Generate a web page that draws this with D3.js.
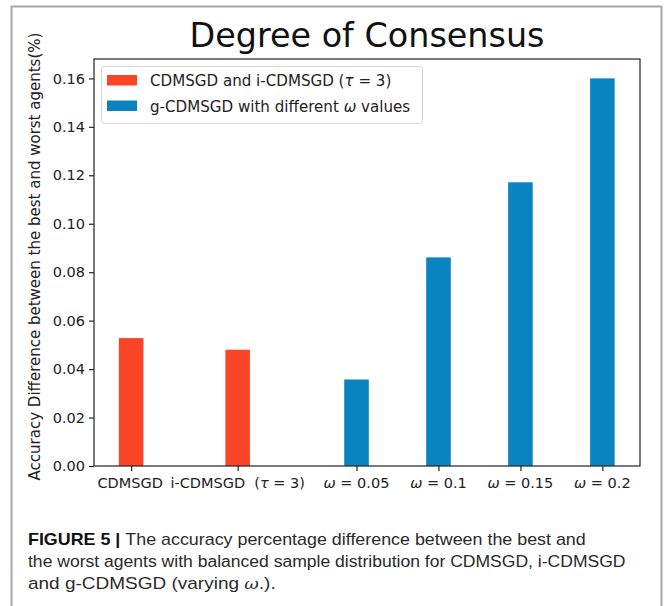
<!DOCTYPE html>
<html><head><meta charset="utf-8">
<script src="https://cdn.jsdelivr.net/npm/d3@7"></script>
<style>body{margin:0;background:#fff}svg{display:block}</style>
</head><body>
<svg id="c" width="664" height="606"></svg>
<script>
// ---- data ----
const categories = ["CDMSGD", "i-CDMSGD", "ω=0.05", "ω=0.1", "ω=0.15", "ω=0.2"];
const xPositions = [0, 1.3, 2.75, 3.75, 4.75, 5.75];
const values = [0.0528, 0.0480, 0.0357, 0.0861, 0.1171, 0.1600];
const groups = ["red", "red", "blue", "blue", "blue", "blue"];
const yTicks = [0, 0.02, 0.04, 0.06, 0.08, 0.10, 0.12, 0.14, 0.16];
const legendLabels = ["CDMSGD and i-CDMSGD (τ = 3)", "g-CDMSGD with different ω values"];
const titleText = "Degree of Consensus";
const yLabelText = "Accuracy Difference between the best and worst agents(%)";
const captionLines = [
  ["FIGURE 5 | ", "The accuracy percentage difference between the best and"],
  ["", "the worst agents with balanced sample distribution for CDMSGD, i-CDMSGD"],
  ["", "and g-CDMSGD (varying ", "ω", ".)."]
];

(function () {
const colors = {red: "#fb4527", blue: "#0a84c1"};
const svg = d3.select("#c");
const FONT = "DejaVu Sans";
const L = 94, R = 640, T = 59, B = 466;
const barW = 0.3;

// outer frame
svg.append("rect").attr("x", 11.5).attr("y", 6.5).attr("width", 650).attr("height", 640)
  .attr("fill", "#fff").attr("stroke", "#a8a8a8").attr("stroke-width", 2);

const x = d3.scaleLinear().domain([-0.453, 6.209]).range([L, R]);
const y = d3.scaleLinear().domain([0, 0.168]).range([B, T]);

// bars
svg.append("g").selectAll("rect").data(values).join("rect")
  .attr("x", (d, i) => x(xPositions[i] - barW / 2))
  .attr("width", (d, i) => x(xPositions[i] + barW / 2) - x(xPositions[i] - barW / 2))
  .attr("y", d => y(d))
  .attr("height", d => y(0) - y(d))
  .attr("fill", (d, i) => colors[groups[i]]);

// axes
const yAxis = svg.append("g").attr("transform", `translate(${L},0)`)
  .call(d3.axisLeft(y).tickValues(yTicks).tickFormat(d3.format(".2f")).tickSize(5).tickPadding(4));
const xAxis = svg.append("g").attr("transform", `translate(0,${B})`)
  .call(d3.axisBottom(x).tickValues(xPositions).tickFormat("").tickSize(5));
[yAxis, xAxis].forEach(g => {
  g.select(".domain").remove();
  g.selectAll("line").attr("stroke", "#222").attr("stroke-width", 1.2);
  g.selectAll("text").attr("font-family", FONT).attr("font-size", 14.5).attr("fill", "#222");
});

// x tick labels with math italics
const xl = svg.append("g").attr("font-family", FONT).attr("font-size", 14.5).attr("fill", "#222");
categories.forEach((c, i) => {
  const t = xl.append("text").attr("x", x(xPositions[i])).attr("y", 488).attr("text-anchor", "middle");
  if (c.startsWith("ω")) {
    t.append("tspan").attr("font-style", "italic").text("ω");
    t.append("tspan").text(" = " + c.split("=")[1]);
  } else if (c === "i-CDMSGD") {
    t.append("tspan").text("i-CDMSGD\u00a0\u00a0(");
    t.append("tspan").attr("font-style", "italic").text("τ");
    t.append("tspan").text(" = 3)");
  } else {
    t.text(c);
  }
});
xl.select("text").attr("x", x(xPositions[0]) - 1);

// frame
svg.append("rect").attr("x", L).attr("y", T).attr("width", R - L).attr("height", B - T)
  .attr("fill", "none").attr("stroke", "#222").attr("stroke-width", 1.2);

// title
svg.append("text").attr("x", (L + R) / 2).attr("y", 46.5).attr("text-anchor", "middle")
  .attr("font-family", FONT).attr("font-size", 33.4).attr("fill", "#111").text(titleText);

// y label
svg.append("text").attr("transform", `translate(39.5,256.5) rotate(-90)`).attr("text-anchor", "middle")
  .attr("font-family", FONT).attr("font-size", 15).attr("fill", "#222").text(yLabelText);

// legend
const lg = svg.append("g");
lg.append("rect").attr("x", 101.5).attr("y", 66.5).attr("width", 321).attr("height", 57).attr("rx", 3)
  .attr("fill", "#fff").attr("fill-opacity", 0.85).attr("stroke", "#d6d6d6");
legendLabels.forEach((l, i) => {
  const yy = 75 + i * 25.5;
  lg.append("rect").attr("x", 107).attr("y", yy).attr("width", 30).attr("height", 10.5)
    .attr("fill", i === 0 ? colors.red : colors.blue);
  const t = lg.append("text").attr("x", 150).attr("y", yy + 11).attr("font-family", FONT)
    .attr("font-size", 15.1).attr("fill", "#222");
  const parts = l.split(/([τω])/);
  parts.forEach(p => {
    if (p === "τ" || p === "ω") t.append("tspan").attr("font-style", "italic").text(p);
    else t.append("tspan").text(p);
  });
});

// caption
const capY = [545, 567, 589];
const capW = [558, 598, 248];
captionLines.forEach((parts, i) => {
  const t = svg.append("text").attr("x", 0).attr("y", 0)
    .attr("font-family", "Liberation Sans").attr("font-size", 16).attr("fill", "#2a2a2a");
  parts.forEach((p, j) => {
    if (p === "") return;
    const ts = t.append("tspan").text(p);
    if (i === 0 && j === 0) ts.attr("font-weight", "bold").attr("fill", "#111");
    if (p === "ω") ts.attr("font-style", "italic").attr("font-family", "DejaVu Serif").attr("font-size", 15);
  });
  const w = t.node().getComputedTextLength();
  const s = capW[i] / w;
  t.attr("transform", `translate(28,${capY[i]}) scale(${s},1)`);
});
})();
</script>
</body></html>
